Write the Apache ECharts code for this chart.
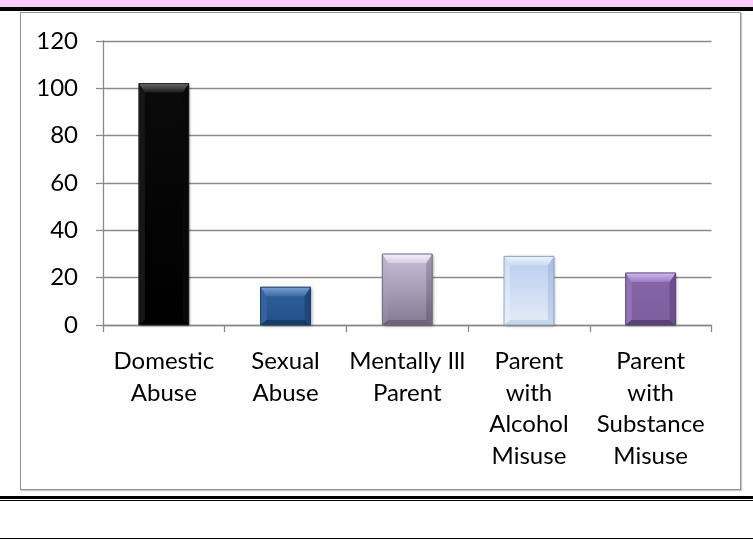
<!DOCTYPE html>
<html>
<head>
<meta charset="utf-8">
<title>Children's risk factors</title>
<script src="https://cdn.jsdelivr.net/npm/echarts@6/dist/echarts.min.js"></script>
<style>
  html, body { margin: 0; padding: 0; background: #fff; }
  #page { position: relative; width: 753px; height: 540px; overflow: hidden; background: #fff; }
  .band { position: absolute; left: 0; top: 0; width: 753px; height: 7px; background: #fccafc; }
  .rule { position: absolute; left: 0; width: 753px; background: #000; }
  #frame { position: absolute; left: 20px; top: 12px; width: 719px; height: 476px;
           border: 1.5px solid #939393; box-shadow: 1px 1px 1px #c8c8c8; }
  #chart { position: absolute; left: 0; top: 0; width: 753px; height: 540px; }
</style>
</head>
<body>
<div id="page">
  <div class="band"></div>
  <div class="rule" style="top:7px;height:4px"></div>
  <div id="frame"></div>
  <div class="rule" style="top:496px;height:3px"></div>
  <div class="rule" style="top:500px;height:1px"></div>
  <div class="rule" style="top:538px;height:1px"></div>
  <div id="chart"></div>
</div>
<script>
// Categories and counts
const categories = [
  'Domestic\nAbuse',
  'Sexual\nAbuse',
  'Mentally Ill\nParent',
  'Parent\nwith\nAlcohol\nMisuse',
  'Parent\nwith\nSubstance\nMisuse'
];
const counts = [102, 16, 30, 29, 22];
const yTicks = { min: 0, max: 120, step: 20 };

// Bevelled bar palettes: body gradient (top -> bottom), top bevel, side bevels, bottom bevel, outline
const palettes = [
  { body: ['#0a0a0a', '#000000'], top: ['#6a6a6a', '#1a1a1a'], left: '#161616', right: '#080808', bottom: '#000000', line: '#222222' },
  { body: ['#2f609c', '#24508a'], top: ['#7aa2d4', '#3d6ca8'], left: '#3464a0', right: '#1f4678', bottom: '#173a66', line: '#1c3d66' },
  { body: ['#cbbfd9', '#857a93'], top: ['#f6f0fb', '#d8cde4'], left: ['#c4b8d3', '#8e839c'], right: ['#a79bb6', '#6e657b'], bottom: '#6d6479', line: '#6f677a' },
  { body: ['#b8cdee', '#e3ecf8'], top: ['#eef4fd', '#c9daf3'], left: ['#cfdef4', '#e8f0fb'], right: ['#a5bde0', '#c6d6ee'], bottom: '#c4d4ea', line: '#8fa3bf' },
  { body: ['#8566a8', '#7d5f9e'], top: ['#d2baee', '#9a7cc0'], left: '#9274b6', right: '#6a4f8c', bottom: '#5b437a', line: '#5a4478' }
];

const chart = echarts.init(document.getElementById('chart'), null, { renderer: 'canvas' });
const grad = (c) => Array.isArray(c)
  ? new echarts.graphic.LinearGradient(0, 0, 0, 1, [{ offset: 0, color: c[0] }, { offset: 1, color: c[1] }])
  : c;

function renderBar(params, api) {
  const p = palettes[params.dataIndex];
  const topPt = api.coord([api.value(0), api.value(1)]);
  const basePt = api.coord([api.value(0), 0]);
  const bw = api.size([1, 0])[0] * 0.41;
  const x0 = topPt[0] - bw / 2, x1 = topPt[0] + bw / 2;
  const y0 = topPt[1], y1 = basePt[1];
  const h = y1 - y0;
  const b = Math.min(9, h / 3);
  const bb = Math.min(5, h / 5);
  const sb = 6;
  return {
    type: 'group',
    children: [
      { type: 'rect', shape: { x: x0, y: y0, width: bw, height: h },
        style: { fill: grad(p.body), shadowBlur: 3, shadowOffsetX: 1.5, shadowOffsetY: 1, shadowColor: 'rgba(0,0,0,0.35)' } },
      { type: 'polygon', shape: { points: [[x0, y0], [x0 + sb, y0 + b], [x0 + sb, y1 - bb], [x0, y1]] },
        style: { fill: grad(p.left) } },
      { type: 'polygon', shape: { points: [[x1, y0], [x1 - sb, y0 + b], [x1 - sb, y1 - bb], [x1, y1]] },
        style: { fill: grad(p.right) } },
      { type: 'polygon', shape: { points: [[x0, y0], [x1, y0], [x1 - sb, y0 + b], [x0 + sb, y0 + b]] },
        style: { fill: grad(p.top) } },
      { type: 'polygon', shape: { points: [[x0, y1], [x0 + sb, y1 - bb], [x1 - sb, y1 - bb], [x1, y1]] },
        style: { fill: grad(p.bottom) } },
      { type: 'rect', shape: { x: x0, y: y0, width: bw, height: h },
        style: { fill: 'none', stroke: p.line, lineWidth: 1 } }
    ]
  };
}

const textStyle = { fontFamily: 'Lato', fontSize: 24, color: '#000' };

chart.setOption({
  animation: false,
  backgroundColor: 'transparent',
  grid: { left: 103, right: 41.5, top: 41, bottom: 215 },
  xAxis: {
    type: 'category',
    data: categories,
    axisLine: { lineStyle: { color: '#8a8a8a', width: 1.3 } },
    axisTick: { show: true, length: 7, lineStyle: { color: '#8a8a8a', width: 1.3 } },
    axisLabel: Object.assign({ margin: 21, lineHeight: 31.5, interval: 0, align: 'center' }, textStyle)
  },
  yAxis: {
    type: 'value',
    min: yTicks.min, max: yTicks.max, interval: yTicks.step,
    axisLine: { show: true, lineStyle: { color: '#8a8a8a', width: 1.3 } },
    axisTick: { show: true, length: 7, lineStyle: { color: '#8a8a8a', width: 1.3 } },
    splitLine: { lineStyle: { color: '#8a8a8a', width: 1.3 } },
    axisLabel: Object.assign({ margin: 25 }, textStyle)
  },
  series: [{
    type: 'custom',
    renderItem: renderBar,
    encode: { x: 0, y: 1 },
    data: counts.map((v, i) => [i, v])
  }]
});
</script>
</body>
</html>
